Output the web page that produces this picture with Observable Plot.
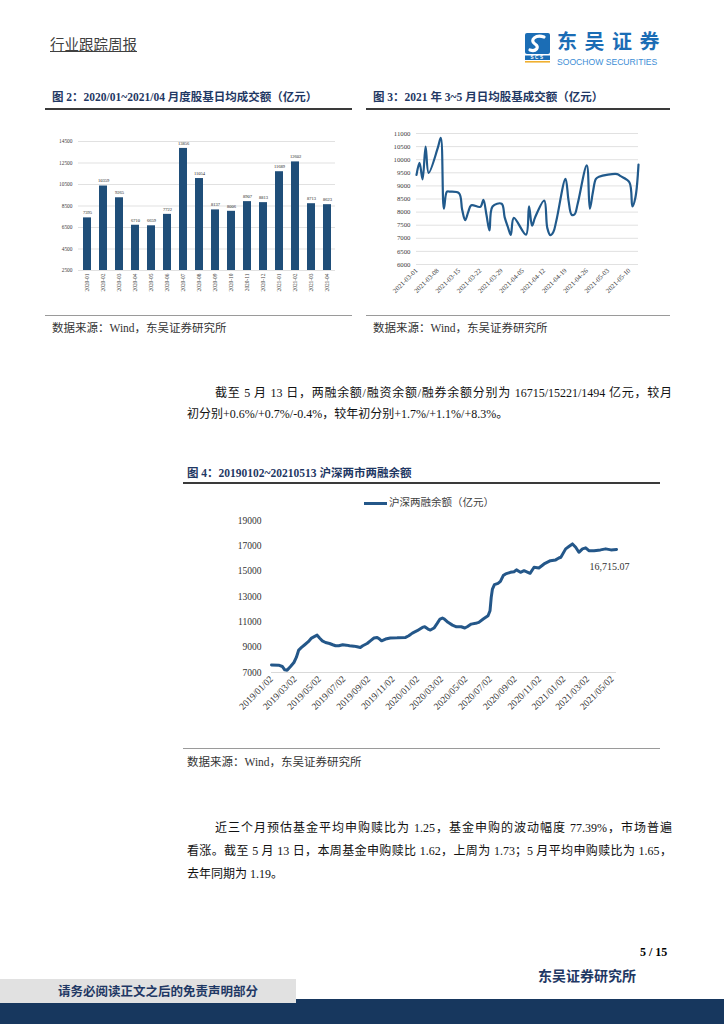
<!DOCTYPE html>
<html>
<head>
<meta charset="utf-8">
<script src="https://cdn.jsdelivr.net/npm/d3@7"></script>
<script src="https://cdn.jsdelivr.net/npm/@observablehq/plot@0.6"></script>
<style>
  html, body { margin: 0; padding: 0; background: #fff; }
  #page { position: relative; width: 724px; height: 1024px; overflow: hidden; background: #fff;
          font-family: "Liberation Serif", "Noto Sans CJK SC", serif; color: #000; }
  .abs { position: absolute; }
  .title { font-weight: bold; font-size: 11.5px; color: #1f3864; line-height: 14px; white-space: nowrap; }
  .tline { height: 2px; background: #3a3a3a; }
  .sline { height: 1px; background: #9a9a9a; }
  .src { font-size: 11.5px; color: #333; line-height: 14px; white-space: nowrap; }
  .para { font-size: 12px; line-height: 16px; color: #111; }
  .just { text-align: justify; text-align-last: justify; }
</style>
</head>
<body>
<div id="page">
  <!-- header -->
  <div class="abs" style="left:50px;top:35px;font-size:14.5px;color:#404040;text-decoration:underline;font-family:'Noto Sans CJK SC';line-height:18px;">行业跟踪周报</div>
  <svg class="abs" style="left:524px;top:32px;" width="30" height="32" viewBox="0 0 30 32">
    <rect x="1" y="1" width="25" height="21" rx="2" fill="#1b6db5"/>
    <path d="M20 5 C12 2, 5 8, 11 12 C16 15, 12 20, 6 18" stroke="#fff" stroke-width="3.2" fill="none" stroke-linecap="round"/>
    <rect x="1" y="23.5" width="25" height="4.5" fill="#1b6db5"/>
    <text x="13.5" y="27.3" font-size="4.6" fill="#fff" text-anchor="middle" font-family="Liberation Sans" font-weight="bold" letter-spacing="1.5">SCS</text>
    <rect x="1" y="29" width="25" height="1.6" fill="#f0b030"/>
  </svg>
  <div class="abs" style="left:557px;top:31px;font-size:20px;font-weight:bold;color:#1b6db5;font-family:'Noto Sans CJK SC';letter-spacing:7.5px;line-height:20px;">东吴证券</div>
  <div class="abs" style="left:557px;top:58px;font-size:8.6px;color:#3c8ed6;font-family:'Liberation Sans';line-height:9px;white-space:nowrap;">SOOCHOW SECURITIES</div>

  <!-- figure 2 -->
  <div class="abs title" style="left:52px;top:90px;">图 2：2020/01~2021/04 月度股基日均成交额（亿元）</div>
  <div class="abs tline" style="left:45px;top:108px;width:307px;"></div>
  <div id="fig2" class="abs" style="left:40px;top:120px;"></div>
  <div class="abs sline" style="left:45px;top:315px;width:307px;"></div>
  <div class="abs src" style="left:52px;top:321px;">数据来源：Wind，东吴证券研究所</div>

  <!-- figure 3 -->
  <div class="abs title" style="left:373px;top:90px;">图 3：2021 年 3~5 月日均股基成交额（亿元）</div>
  <div class="abs tline" style="left:366px;top:108px;width:304px;"></div>
  <div id="fig3" class="abs" style="left:365px;top:120px;"></div>
  <div class="abs sline" style="left:366px;top:315px;width:304px;"></div>
  <div class="abs src" style="left:373px;top:321px;">数据来源：Wind，东吴证券研究所</div>

  <!-- paragraph 1 -->
  <div class="abs para just" style="left:215px;top:385px;width:457px;">截至 5 月 13 日，两融余额/融资余额/融券余额分别为 16715/15221/1494 亿元，较月</div>
  <div class="abs para" style="left:187px;top:406px;width:485px;">初分别+0.6%/+0.7%/-0.4%，较年初分别+1.7%/+1.1%/+8.3%。</div>

  <!-- figure 4 -->
  <div class="abs title" style="left:187px;top:466px;">图 4：20190102~20210513 沪深两市两融余额</div>
  <div class="abs tline" style="left:183px;top:482px;width:477px;"></div>
  <div class="abs" style="left:364px;top:502px;width:23px;height:3px;background:#245789;"></div>
  <div class="abs" style="left:389px;top:495px;font-size:10.5px;color:#404040;font-family:'Noto Sans CJK SC';line-height:14px;white-space:nowrap;">沪深两融余额（亿元）</div>
  <div id="fig4" class="abs" style="left:183px;top:512px;"></div>
  <div class="abs sline" style="left:183px;top:748px;width:477px;"></div>
  <div class="abs src" style="left:187px;top:755px;">数据来源：Wind，东吴证券研究所</div>

  <!-- paragraph 2 -->
  <div class="abs para just" style="left:215px;top:820px;width:457px;">近三个月预估基金平均申购赎比为 1.25，基金申购的波动幅度 77.39%，市场普遍</div>
  <div class="abs para just" style="left:187px;top:843px;width:485px;">看涨。截至 5 月 13 日，本周基金申购赎比 1.62，上周为 1.73；5 月平均申购赎比为 1.65，</div>
  <div class="abs para" style="left:187px;top:866px;width:485px;">去年同期为 1.19。</div>

  <!-- footer -->
  <div class="abs" style="left:640px;top:944px;font-size:12px;font-weight:bold;line-height:16px;white-space:nowrap;">5 / 15</div>
  <div class="abs" style="left:538px;top:968px;font-size:14px;font-weight:bold;color:#1f3864;line-height:18px;white-space:nowrap;">东吴证券研究所</div>
  <div class="abs" style="left:0;top:999px;width:724px;height:25px;background:#17375e;"></div>
  <div class="abs" style="left:0;top:979px;width:296px;height:24px;background:#e1e1e1;"></div>
  <div class="abs" style="left:58px;top:984px;font-size:12.5px;font-weight:bold;color:#1f3864;line-height:16px;white-space:nowrap;">请务必阅读正文之后的免责声明部分</div>
</div>

<script>
// ---------- Figure 2 data ----------
const months2 = ["2020-01","2020-02","2020-03","2020-04","2020-05","2020-06","2020-07","2020-08",
                 "2020-09","2020-10","2020-11","2020-12","2021-01","2021-02","2021-03","2021-04"];
const values2 = [7395,10359,9265,6710,6659,7722,13856,11054,8137,8006,8907,8813,11689,12602,8713,8623];
const yTicks2 = [2500,4500,6500,8500,10500,12500,14500];

// ---------- Figure 3 data ----------
const dates3 = ["2021-03-01","2021-03-02","2021-03-03","2021-03-04","2021-03-05","2021-03-08","2021-03-09",
  "2021-03-10","2021-03-11","2021-03-12","2021-03-15","2021-03-16","2021-03-17","2021-03-18","2021-03-19",
  "2021-03-22","2021-03-23","2021-03-24","2021-03-25","2021-03-26","2021-03-29","2021-03-30","2021-03-31",
  "2021-04-01","2021-04-02","2021-04-06","2021-04-07","2021-04-08","2021-04-09","2021-04-12","2021-04-13",
  "2021-04-14","2021-04-15","2021-04-16","2021-04-19","2021-04-20","2021-04-21","2021-04-22","2021-04-23",
  "2021-04-26","2021-04-27","2021-04-28","2021-04-29","2021-04-30","2021-05-06","2021-05-07","2021-05-10",
  "2021-05-11","2021-05-12","2021-05-13"];
const values3 = [9420,9880,9250,10500,9500,10450,10830,8130,8780,8780,8720,8100,7690,8000,8260,
  8200,8470,7900,7300,8215,8320,7800,7450,7130,7780,7140,8215,7480,7800,8440,7400,
  7120,7240,7680,9270,8440,7900,7920,8320,9780,8130,8760,9266,9350,9450,9380,9140,
  8215,8570,9810];
const xTicks3 = ["2021-03-01","2021-03-08","2021-03-15","2021-03-22","2021-03-29","2021-04-05",
  "2021-04-12","2021-04-19","2021-04-26","2021-05-03","2021-05-10"];
const yTicks3 = [6000,6500,7000,7500,8000,8500,9000,9500,10000,10500,11000];

// ---------- Figure 4 data ----------
const dates4 = ["2019-01-02","2019-01-20","2019-01-29","2019-02-04","2019-02-10","2019-02-18","2019-02-27",
  "2019-03-05","2019-03-11","2019-03-18","2019-03-26","2019-04-04","2019-04-12","2019-04-20","2019-04-26",
  "2019-05-02","2019-05-09","2019-05-17","2019-05-27","2019-06-04","2019-06-11","2019-06-19","2019-06-29",
  "2019-07-08","2019-07-16","2019-07-27","2019-08-04","2019-08-12","2019-08-18","2019-08-29","2019-09-06",
  "2019-09-15","2019-09-23","2019-09-29","2019-10-04","2019-10-14","2019-10-26","2019-11-12","2019-12-03",
  "2019-12-11","2019-12-20","2020-01-01","2020-01-14","2020-01-20","2020-01-28","2020-02-03","2020-02-12",
  "2020-02-20","2020-02-27","2020-03-04","2020-03-09","2020-03-18","2020-03-29","2020-04-08","2020-04-20",
  "2020-04-29","2020-05-05","2020-05-15","2020-05-26","2020-06-03","2020-06-14","2020-06-26","2020-07-01",
  "2020-07-04","2020-07-07","2020-07-12","2020-07-21","2020-07-27","2020-08-03","2020-08-09","2020-08-21",
  "2020-08-30","2020-09-05","2020-09-15","2020-09-24","2020-10-09","2020-10-19","2020-10-31","2020-11-13",
  "2020-11-29","2020-12-12","2020-12-20","2020-12-25","2021-01-06","2021-01-14","2021-01-23","2021-01-31",
  "2021-02-08","2021-02-17","2021-02-25","2021-03-05","2021-03-18","2021-04-03","2021-04-16","2021-04-29",
  "2021-05-13"];
const values4 = [7590,7580,7475,7210,7185,7450,7790,
  8190,8770,8980,9190,9430,9720,9850,9950,
  9720,9500,9370,9290,9190,9110,9110,9190,
  9160,9110,9080,9030,8980,9110,9290,9500,
  9720,9770,9640,9500,9640,9730,9740,9770,
  9900,10110,10300,10560,10610,10430,10350,10510,
  10880,11220,11300,11220,10960,10740,10610,10610,
  10510,10610,10820,10880,10960,11220,11480,11880,
  12930,13590,13940,14040,14200,14650,14780,14910,
  14960,15100,14910,15040,14830,15310,15250,15570,
  15830,15890,16040,16100,16760,16940,17150,16890,
  16490,16760,16840,16620,16620,16680,16760,16680,
  16715.07];
const xTicks4 = ["2019-01-02","2019-03-02","2019-05-02","2019-07-02","2019-09-02","2019-11-02",
  "2020-01-02","2020-03-02","2020-05-02","2020-07-02","2020-09-02","2020-11-02",
  "2021-01-02","2021-03-02","2021-05-02"];
const yTicks4 = [7000,9000,11000,13000,15000,17000,19000];

// ---------- build tables ----------
const data2 = months2.map((m, i) => ({month: m, value: values2[i]}));
const data3 = dates3.map((d, i) => ({date: new Date(d), value: values3[i]}));
const data4 = dates4.map((d, i) => ({date: new Date(d), value: values4[i]}));
const serif = "'Liberation Serif', 'Times New Roman', serif";

const fig2 = Plot.plot({
  width: 300, height: 185,
  marginLeft: 38, marginRight: 5, marginTop: 21, marginBottom: 35,
  style: {fontFamily: serif, fontSize: "5.4px", color: "#404040", background: "transparent", overflow: "visible"},
  x: {type: "band", domain: months2, paddingInner: 0.5, paddingOuter: 0.25,
      tickRotate: -90, tickSize: 0, tickPadding: 3, label: null},
  y: {domain: [2500, 14500], ticks: yTicks2, tickSize: 0, tickPadding: 6,
      tickFormat: d => String(d), label: null},
  marks: [
    Plot.ruleY(yTicks2, {stroke: "#d9d9d9", strokeWidth: 0.8}),
    Plot.barY(data2, {x: "month", y1: 2500, y2: "value", fill: "#1f4e79"}),
    Plot.text(data2, {x: "month", y: "value", text: d => String(d.value), dy: -5,
                      fontSize: 4.5, fill: "#222"})
  ]
});
document.getElementById("fig2").appendChild(fig2);

const fig3 = Plot.plot({
  width: 280, height: 185,
  marginLeft: 51, marginRight: 7, marginTop: 13, marginBottom: 41,
  style: {fontFamily: serif, fontSize: "6.8px", color: "#404040", background: "transparent", overflow: "visible"},
  x: {type: "utc", domain: [new Date("2021-03-01"), new Date("2021-05-13")],
      ticks: xTicks3.map(d => new Date(d)), tickFormat: d3.utcFormat("%Y-%m-%d"),
      tickRotate: -45, tickSize: 0, tickPadding: 5, label: null},
  y: {domain: [6000, 11000], ticks: yTicks3, tickSize: 0, tickPadding: 6,
      tickFormat: d => String(d), label: null},
  marks: [
    Plot.ruleY(yTicks3, {stroke: "#d9d9d9", strokeWidth: 0.8}),
    Plot.line(data3, {x: "date", y: "value", stroke: "#215a8c", strokeWidth: 2.2, curve: "catmull-rom"})
  ]
});
document.getElementById("fig3").appendChild(fig3);

const last4 = data4[data4.length - 1];
const fig4 = Plot.plot({
  width: 480, height: 218,
  marginLeft: 88, marginRight: 47, marginTop: 8, marginBottom: 58,
  style: {fontFamily: serif, fontSize: "9.5px", color: "#333", background: "transparent", overflow: "visible"},
  x: {type: "utc", domain: [new Date("2019-01-02"), new Date("2021-05-13")],
      ticks: xTicks4.map(d => new Date(d)), tickFormat: d3.utcFormat("%Y/%m/%d"),
      tickRotate: -45, tickSize: 0, tickPadding: 5, label: null},
  y: {domain: [7000, 19000], ticks: yTicks4, tickSize: 0, tickPadding: 10,
      tickFormat: d => String(d), label: null},
  marks: [
    Plot.ruleY([7000], {stroke: "#d9d9d9", strokeWidth: 1}),
    Plot.line(data4, {x: "date", y: "value", stroke: "#245789", strokeWidth: 3, strokeLinejoin: "round"}),
    Plot.text([last4], {x: "date", y: "value", text: d => d3.format(",.2f")(d.value),
                        dx: -7, dy: 17, fontSize: 10, fill: "#333"})
  ]
});
document.getElementById("fig4").appendChild(fig4);
</script>
</body>
</html>
